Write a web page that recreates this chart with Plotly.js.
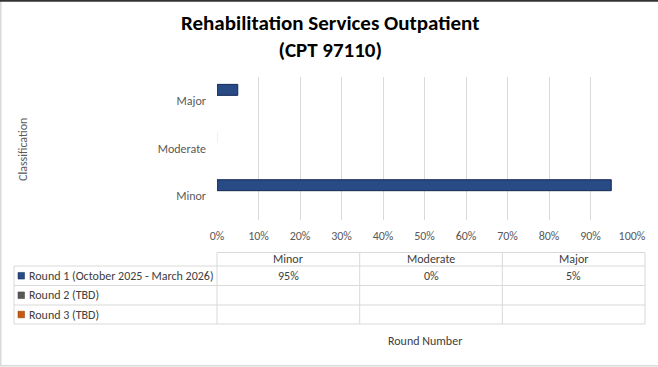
<!DOCTYPE html>
<html>
<head>
<meta charset="utf-8">
<script src="https://cdn.plot.ly/plotly-3.0.1.min.js"></script>
<style>html,body{margin:0;padding:0;background:#fff;}#chart{width:658px;height:367px;}</style>
</head>
<body>
<div id="chart"></div>
<script>
// ---- Data ----
const categories = ['Minor', 'Moderate', 'Major'];
const seriesNames = ['Round 1 (October 2025 - March 2026)', 'Round 2 (TBD)', 'Round 3 (TBD)'];
const round1 = [95, 0, 5];
const round2 = [null, null, null];
const round3 = [null, null, null];
const xTickVals = [0, 10, 20, 30, 40, 50, 60, 70, 80, 90, 100];
const xTickText = ['0%', '10%', '20%', '30%', '40%', '50%', '60%', '70%', '80%', '90%', '100%'];
const titleLine1 = 'Rehabilitation Services Outpatient';
const titleLine2 = '(CPT 97110)';
const xTitle = 'Round Number';
const yTitle = 'Classification';

// ---- Styles ----
const seriesColors = ['#284a85', '#595959', '#c55a11'];
const seriesLines = ['#132a55', '#3a3a3a', '#8a3c08'];
const FONT = 'Carlito, Calibri, Lato, sans-serif';
const W = 658, H = 367;
const L = 217, R = 632, T = 77, B = 220;
const px2x = p => (p - L) / (R - L);
const py2y = p => (B - p) / (B - T);

const allSeries = [round1, round2, round3];
const offsets = [0.115, -0.115, -0.345];
const traces = allSeries.map((vals, i) => ({
  type: 'bar',
  orientation: 'h',
  y: categories,
  x: vals,
  name: seriesNames[i],
  width: 0.23,
  offset: offsets[i],
  marker: {color: seriesColors[i],
    line: {color: vals.map(v => v === 0 ? 'rgba(0,0,0,0.06)' : seriesLines[i]), width: 1}},
  showlegend: false,
  hoverinfo: 'none'
}));

// ---- Data table (drawn with shapes & annotations) ----
const lineC = '#d9d9d9';
const colX = [217, 359.7, 502.3, 645];
const rowY = [252.5, 266, 285.5, 305, 324];
const tableLeft = 14;
const shapes = [];
function hline(x0, x1, y, c, w) {
  shapes.push({type: 'line', xref: 'paper', yref: 'paper', x0: px2x(x0), x1: px2x(x1), y0: py2y(y), y1: py2y(y), line: {color: c || lineC, width: w || 1}});
}
function vline(x, y0, y1, c, w) {
  shapes.push({type: 'line', xref: 'paper', yref: 'paper', x0: px2x(x), x1: px2x(x), y0: py2y(y0), y1: py2y(y1), line: {color: c || lineC, width: w || 1}});
}
hline(colX[0], colX[3], rowY[0]);
for (let r = 1; r < rowY.length; r++) hline(tableLeft, colX[3], rowY[r]);
vline(tableLeft, rowY[1], rowY[4]);
colX.forEach(x => vline(x, rowY[0], rowY[4]));

// chart border
vline(0.8, 0, 366, '#d9d9d9', 1.5);
hline(0, 658, 365.8, '#d9d9d9', 1.5);
hline(0, 658, 0.8, '#333333', 2);

const annotations = [];
const tFont = {family: FONT, size: 12, color: '#404040'};
// header
categories.forEach((c, j) => {
  annotations.push({xref: 'paper', yref: 'paper', x: px2x((colX[j] + colX[j + 1]) / 2), y: py2y((rowY[0] + rowY[1]) / 2),
    text: c, showarrow: false, font: tFont, xanchor: 'center', yanchor: 'middle'});
});
// rows
allSeries.forEach((vals, i) => {
  const yc = (rowY[i + 1] + rowY[i + 2]) / 2;
  // legend key
  shapes.push({type: 'rect', xref: 'paper', yref: 'paper', x0: px2x(18), x1: px2x(24.5), y0: py2y(yc - 3.3), y1: py2y(yc + 3.3),
    fillcolor: seriesColors[i], line: {color: seriesLines[i], width: 0.5}});
  annotations.push({xref: 'paper', yref: 'paper', x: px2x(26.5), y: py2y(yc), text: seriesNames[i], showarrow: false,
    font: tFont, xanchor: 'left', yanchor: 'middle'});
  vals.forEach((v, j) => {
    if (v === null || v === undefined) return;
    annotations.push({xref: 'paper', yref: 'paper', x: px2x((colX[j] + colX[j + 1]) / 2), y: py2y(yc),
      text: v + '%', showarrow: false, font: tFont, xanchor: 'center', yanchor: 'middle'});
  });
});
// chart title (two lines, one text block)
annotations.push({xref: 'paper', yref: 'paper', x: px2x(330), y: py2y(36.5),
  text: '<b>' + titleLine1 + '</b><br><b>' + titleLine2 + '</b>', showarrow: false,
  font: {family: FONT, size: 21, color: '#000000'}, xanchor: 'center', yanchor: 'middle', align: 'center'});
// x axis title below the table
annotations.push({xref: 'paper', yref: 'paper', x: 0.5, y: py2y(341), text: xTitle, showarrow: false,
  font: {family: FONT, size: 12, color: '#404040'}, xanchor: 'center', yanchor: 'middle'});
// y axis title
annotations.push({xref: 'paper', yref: 'paper', x: px2x(23), y: py2y(150), text: yTitle, showarrow: false, textangle: -90,
  font: {family: FONT, size: 12, color: '#595959'}, xanchor: 'center', yanchor: 'middle'});

const layout = {
  width: W, height: H,
  margin: {l: L, r: W - R, t: T, b: H - B, pad: 0},
  paper_bgcolor: '#ffffff', plot_bgcolor: '#ffffff',
  font: {family: FONT, size: 12, color: '#595959'},
  barmode: 'overlay',
  xaxis: {range: [0, 100], tickvals: xTickVals, ticktext: xTickText, showgrid: true, gridcolor: '#d9d9d9', gridwidth: 1,
    zeroline: false, showline: false, ticks: '', ticklabelstandoff: 7, tickfont: {family: FONT, size: 12, color: '#595959'}, fixedrange: true},
  yaxis: {type: 'category', categoryorder: 'array', categoryarray: categories, range: [-0.5, 2.5], showgrid: false,
    zeroline: false, showline: false, ticks: '', ticklabelstandoff: 10, tickfont: {family: FONT, size: 12, color: '#595959'}, fixedrange: true},
  shapes: shapes,
  annotations: annotations
};

Plotly.newPlot('chart', traces, layout, {staticPlot: true, displayModeBar: false});
</script>
</body>
</html>
